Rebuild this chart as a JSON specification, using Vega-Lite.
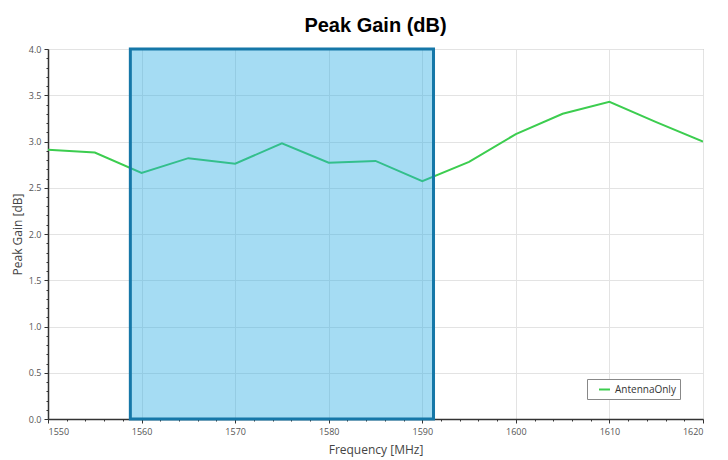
{
  "$schema": "https://vega.github.io/schema/vega-lite/v6.json",
  "autosize": "none",
  "width": 655,
  "height": 370,
  "padding": {"left": 48, "top": 49, "right": 25, "bottom": 41},
  "background": "white",
  "title": {"text": "Peak Gain (dB)", "font": "Liberation Sans", "fontSize": 20, "fontWeight": "bold", "color": "#000000", "offset": 9, "anchor": "middle"},
  "config": {
    "view": {"stroke": "#9a9a9a", "strokeWidth": 1},
    "axis": {"labelFont": "Open Sans", "labelFontSize": 9, "labelColor": "#555555", "titleFont": "Open Sans", "titleFontSize": 12, "titleFontWeight": "normal", "titleColor": "#444444", "gridColor": "#e3e3e3", "domainColor": "#333333", "tickColor": "#333333", "domainWidth": 1.5}
  },
  "datasets": {
    "band": [{"start": 1558.8, "end": 1591.2, "low": 0, "high": 4}],
    "gain": [
      {"freq": 1550, "gain": 2.91, "series": "AntennaOnly"},
      {"freq": 1555, "gain": 2.88, "series": "AntennaOnly"},
      {"freq": 1560, "gain": 2.66, "series": "AntennaOnly"},
      {"freq": 1565, "gain": 2.82, "series": "AntennaOnly"},
      {"freq": 1570, "gain": 2.76, "series": "AntennaOnly"},
      {"freq": 1575, "gain": 2.98, "series": "AntennaOnly"},
      {"freq": 1580, "gain": 2.77, "series": "AntennaOnly"},
      {"freq": 1585, "gain": 2.79, "series": "AntennaOnly"},
      {"freq": 1590, "gain": 2.57, "series": "AntennaOnly"},
      {"freq": 1595, "gain": 2.78, "series": "AntennaOnly"},
      {"freq": 1600, "gain": 3.08, "series": "AntennaOnly"},
      {"freq": 1605, "gain": 3.30, "series": "AntennaOnly"},
      {"freq": 1610, "gain": 3.43, "series": "AntennaOnly"},
      {"freq": 1615, "gain": 3.21, "series": "AntennaOnly"},
      {"freq": 1620, "gain": 3.00, "series": "AntennaOnly"}
    ]
  },
  "resolve": {"axis": {"x": "independent", "y": "independent"}},
  "layer": [
    {
      "data": {"name": "gain"},
      "mark": {"type": "line", "strokeWidth": 2, "clip": true},
      "encoding": {
        "x": {"field": "freq", "type": "quantitative", "scale": {"domain": [1550, 1620], "nice": false}, "axis": {"orient": "bottom", "title": "Frequency [MHz]", "values": [1550,1560,1570,1580,1590,1600,1610,1620], "format": "d", "tickSize": 4, "labelPadding": 4, "titlePadding": 8, "grid": true}},
        "y": {"field": "gain", "type": "quantitative", "scale": {"domain": [0, 4], "nice": false}, "axis": {"orient": "left", "title": "Peak Gain [dB]", "values": [0,0.5,1,1.5,2,2.5,3,3.5,4], "format": ".1f", "tickSize": 4, "labelPadding": 3, "titlePadding": 4, "grid": true}},
        "color": {"field": "series", "type": "nominal", "scale": {"range": ["#3ccd4f"]}, "legend": {"title": null, "orient": "none", "legendX": 539, "legendY": 330, "symbolType": "stroke", "symbolStrokeWidth": 2, "symbolSize": 120, "symbolOffset": 7, "labelFont": "Open Sans", "labelFontSize": 10, "labelColor": "#333333", "strokeColor": "#888888", "padding": 4, "fillColor": "white"}}
      }
    },
    {
      "data": {"name": "gain"},
      "mark": {"type": "point", "opacity": 0},
      "encoding": {
        "x": {"field": "freq", "type": "quantitative", "axis": {"orient": "bottom", "title": null, "labels": false, "domain": false, "grid": false, "tickSize": 2, "values": [1552,1554,1556,1558,1562,1564,1566,1568,1572,1574,1576,1578,1582,1584,1586,1588,1592,1594,1596,1598,1602,1604,1606,1608,1612,1614,1616,1618]}},
        "y": {"field": "gain", "type": "quantitative", "axis": {"orient": "left", "title": null, "labels": false, "domain": false, "grid": false, "tickSize": 2, "values": [0.1,0.2,0.3,0.4,0.6,0.7,0.8,0.9,1.1,1.2,1.3,1.4,1.6,1.7,1.8,1.9,2.1,2.2,2.3,2.4,2.6,2.7,2.8,2.9,3.1,3.2,3.3,3.4,3.6,3.7,3.8,3.9]}}
      }
    },
    {
      "data": {"name": "band"},
      "mark": {"type": "rect", "fill": "#29abe2", "fillOpacity": 0.42, "stroke": "#1577a8", "strokeWidth": 3},
      "encoding": {
        "x": {"field": "start", "type": "quantitative", "axis": null},
        "x2": {"field": "end"},
        "y": {"field": "low", "type": "quantitative", "axis": null},
        "y2": {"field": "high"}
      }
    }
  ]
}
